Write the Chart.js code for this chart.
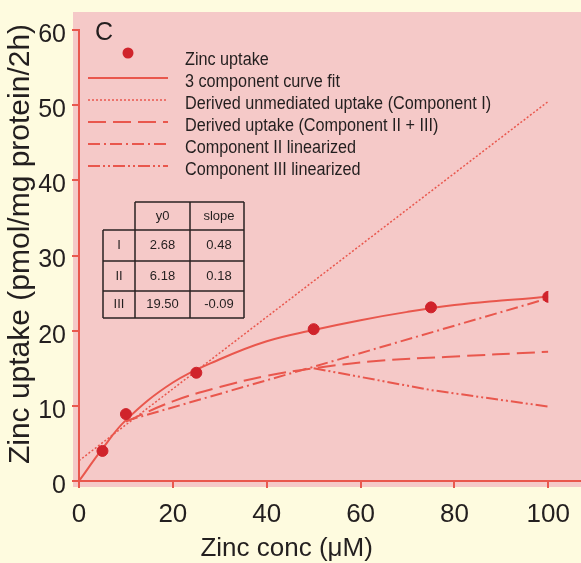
<!DOCTYPE html>
<html>
<head>
<meta charset="utf-8">
<script src="https://cdn.jsdelivr.net/npm/chart.js@4.4.1/dist/chart.umd.min.js"></script>
<style>
  html, body { margin: 0; padding: 0; background: #fefbdf; }
  #wrap { width: 581px; height: 563px; }
</style>
</head>
<body>
<div id="wrap"><canvas id="zincChart" width="581" height="563"></canvas></div>
<script>
/* DATOS */
const concPoints = [5, 10, 25, 50, 75, 100];
const uptakePoints = [4.0, 8.9, 14.4, 20.2, 23.1, 24.5];

const fitConc = [0, 5, 10, 20, 30, 40, 50, 60, 70, 80, 90, 100];
const fitUptake = [0, 4.3, 8.1, 13.1, 16.2, 18.6, 20.1, 21.4, 22.5, 23.4, 24.0, 24.5];

const comp1Conc = [0, 100];
const comp1Uptake = [2.7, 50.5];

const derivedConc = [10, 20, 30, 40, 50, 64, 78, 100];
const derivedUptake = [7.9, 10.6, 12.5, 14.0, 15.0, 16.0, 16.5, 17.2];

const comp2Conc = [10, 50, 100];
const comp2Uptake = [8.0, 15.2, 24.3];

const comp3Conc = [50, 75, 100];
const comp3Uptake = [15.0, 12.1, 9.9];

const seriesNames = [
    'Zinc uptake',
    '3 component curve fit',
    'Derived unmediated uptake (Component I)',
    'Derived uptake (Component II + III)',
    'Component II linearized',
    'Component III linearized'
];

const tableHeader = ['y0', 'slope'];
const tableRowNames = ['I', 'II', 'III'];
const tableY0 = ['2.68', '6.18', '19.50'];
const tableSlope = ['0.48', '0.18', '-0.09'];

const xTitle = 'Zinc conc (\u03BCM)';
const yTitle = 'Zinc uptake (pmol/mg protein/2h)';
const panelLabel = 'C';

/* ESTILO */
const rojo = '#e9574d';
const rojoPunto = '#d0232b';
const rosa = '#f5c9c8';
const crema = '#fefbdf';
const texto = '#231f1f';
const fuente = '"Liberation Sans", Arial, sans-serif';

function pares(xs, ys){
    return xs.map((x, i) => ({ x: x, y: ys[i] }));
}

/* FONDO Y EJES */
const fondoPlugin = {
    id: 'fondo',
    beforeDraw(chart){
        const ctx = chart.ctx;
        const a = chart.chartArea;
        ctx.save();
        ctx.fillStyle = crema;
        ctx.fillRect(0, 0, chart.width, chart.height);
        ctx.fillStyle = rosa;
        ctx.fillRect(a.left - 6, a.top - 18, chart.width - a.left + 6, a.bottom - a.top + 24);
        ctx.restore();
    },
    afterDraw(chart){
        const ctx = chart.ctx;
        const a = chart.chartArea;
        ctx.save();
        // eje x hasta el borde
        ctx.strokeStyle = rojo;
        ctx.lineWidth = 2;
        ctx.beginPath();
        ctx.moveTo(a.left - 6, a.bottom);
        ctx.lineTo(chart.width, a.bottom);
        ctx.stroke();

        // titulo x
        ctx.fillStyle = texto;
        ctx.font = '26px ' + fuente;
        ctx.textAlign = 'center';
        ctx.textBaseline = 'middle';
        ctx.fillText(xTitle, (a.left + a.right) / 2 - 27, 549);

        // titulo y
        ctx.save();
        ctx.translate(21, 244);
        ctx.rotate(-Math.PI / 2);
        ctx.font = '30px ' + fuente;
        ctx.fillText(yTitle, 0, 0);
        ctx.restore();

        // letra del panel
        ctx.font = '25px ' + fuente;
        ctx.fillText(panelLabel, 104, 33);
        ctx.restore();
    }
};

/* LEYENDA */
const leyendaPlugin = {
    id: 'leyenda',
    afterDraw(chart){
        const ctx = chart.ctx;
        const x0 = 88, x1 = 168, xt = 185;
        ctx.save();
        chart.data.datasets.forEach((ds, i) => {
            const yt = 60 + i * 22;
            if (i === 0) {
                ctx.fillStyle = ds.backgroundColor;
                ctx.beginPath();
                ctx.arc(128, 53, 5.5, 0, Math.PI * 2);
                ctx.fill();
            } else {
                const yl = yt - 4;
                ctx.strokeStyle = ds.borderColor;
                ctx.lineWidth = ds.borderWidth;
                ctx.setLineDash(ds.borderDash || []);
                ctx.beginPath();
                ctx.moveTo(x0, yl);
                ctx.lineTo(x1, yl);
                ctx.stroke();
                ctx.setLineDash([]);
            }
            // texto estrecho como en la figura
            ctx.save();
            ctx.translate(xt, yt);
            ctx.scale(0.9, 1);
            ctx.fillStyle = texto;
            ctx.font = '18px ' + fuente;
            ctx.textAlign = 'left';
            ctx.textBaseline = 'middle';
            ctx.fillText(ds.label, 0, 0);
            ctx.restore();
        });
        ctx.restore();
    }
};

/* TABLA */
const tablaPlugin = {
    id: 'tabla',
    afterDraw(chart){
        const ctx = chart.ctx;
        const cols = [103, 135, 190, 244];
        const rows = [202, 230, 261, 291, 318];
        ctx.save();
        ctx.strokeStyle = '#2a2222';
        ctx.lineWidth = 1.5;
        ctx.beginPath();
        // cabecera
        ctx.moveTo(cols[1], rows[0]); ctx.lineTo(cols[3], rows[0]);
        for (let r = 1; r < rows.length; r++) {
            ctx.moveTo(cols[0], rows[r]); ctx.lineTo(cols[3], rows[r]);
        }
        ctx.moveTo(cols[0], rows[1]); ctx.lineTo(cols[0], rows[4]);
        for (let c = 1; c < cols.length; c++) {
            ctx.moveTo(cols[c], rows[0]); ctx.lineTo(cols[c], rows[4]);
        }
        ctx.stroke();

        ctx.fillStyle = texto;
        ctx.font = '13px ' + fuente;
        ctx.textAlign = 'center';
        ctx.textBaseline = 'middle';
        const cx = [(cols[0] + cols[1]) / 2, (cols[1] + cols[2]) / 2, (cols[2] + cols[3]) / 2 + 2];
        ctx.fillText(tableHeader[0], cx[1], (rows[0] + rows[1]) / 2);
        ctx.fillText(tableHeader[1], cx[2], (rows[0] + rows[1]) / 2);
        tableRowNames.forEach((n, i) => {
            const cy = (rows[i + 1] + rows[i + 2]) / 2;
            ctx.fillText(n, cx[0], cy);
            ctx.fillText(tableY0[i], cx[1], cy);
            ctx.fillText(tableSlope[i], cx[2], cy);
        });
        ctx.restore();
    }
};

/* GRAFICO */
new Chart(document.getElementById('zincChart'), {
    type: 'scatter',
    data: {
        datasets: [{
            label: seriesNames[0],
            data: pares(concPoints, uptakePoints),
            backgroundColor: rojoPunto,
            borderColor: rojoPunto,
            pointRadius: 5.5,
            showLine: false,
            order: 0
        }, {
            label: seriesNames[1],
            data: pares(fitConc, fitUptake),
            borderColor: rojo,
            borderWidth: 2,
            pointRadius: 0,
            showLine: true,
            tension: 0.4,
            order: 1
        }, {
            label: seriesNames[2],
            data: pares(comp1Conc, comp1Uptake),
            borderColor: rojo,
            borderWidth: 1.5,
            borderDash: [2, 2],
            pointRadius: 0,
            showLine: true,
            order: 2
        }, {
            label: seriesNames[3],
            data: pares(derivedConc, derivedUptake),
            borderColor: rojo,
            borderWidth: 2,
            borderDash: [18, 7],
            pointRadius: 0,
            showLine: true,
            tension: 0.4,
            order: 3
        }, {
            label: seriesNames[4],
            data: pares(comp2Conc, comp2Uptake),
            borderColor: rojo,
            borderWidth: 2,
            borderDash: [12, 4, 2, 4],
            pointRadius: 0,
            showLine: true,
            order: 4
        }, {
            label: seriesNames[5],
            data: pares(comp3Conc, comp3Uptake),
            borderColor: rojo,
            borderWidth: 2,
            borderDash: [12, 3, 2, 3, 2, 3],
            pointRadius: 0,
            showLine: true,
            order: 5
        }]
    },
    options: {
        responsive: false,
        devicePixelRatio: 1,
        animation: false,
        layout: { padding: { top: 30, right: 25, left: 0, bottom: 0 } },
        plugins: {
            legend: { display: false },
            tooltip: { enabled: false }
        },
        scales: {
            x: {
                type: 'linear',
                min: 0,
                max: 100,
                afterFit: s => { s.height = 82; },
                ticks: {
                    stepSize: 20,
                    color: texto,
                    padding: 11,
                    maxRotation: 0,
                    font: { size: 26, family: fuente }
                },
                grid: {
                    drawOnChartArea: false,
                    drawTicks: true,
                    tickLength: 7,
                    color: rojo,
                    lineWidth: 2
                },
                border: { display: true, color: rojo, width: 2 }
            },
            y: {
                min: 0,
                max: 60,
                afterFit: s => { s.width = 79; },
                ticks: {
                    stepSize: 10,
                    color: texto,
                    padding: 6,
                    labelOffset: 5,
                    font: { size: 25, family: fuente }
                },
                grid: {
                    drawOnChartArea: false,
                    drawTicks: true,
                    tickLength: 7,
                    color: rojo,
                    lineWidth: 2
                },
                border: { display: true, color: rojo, width: 2 }
            }
        }
    },
    plugins: [fondoPlugin, leyendaPlugin, tablaPlugin]
});
</script>
</body>
</html>
